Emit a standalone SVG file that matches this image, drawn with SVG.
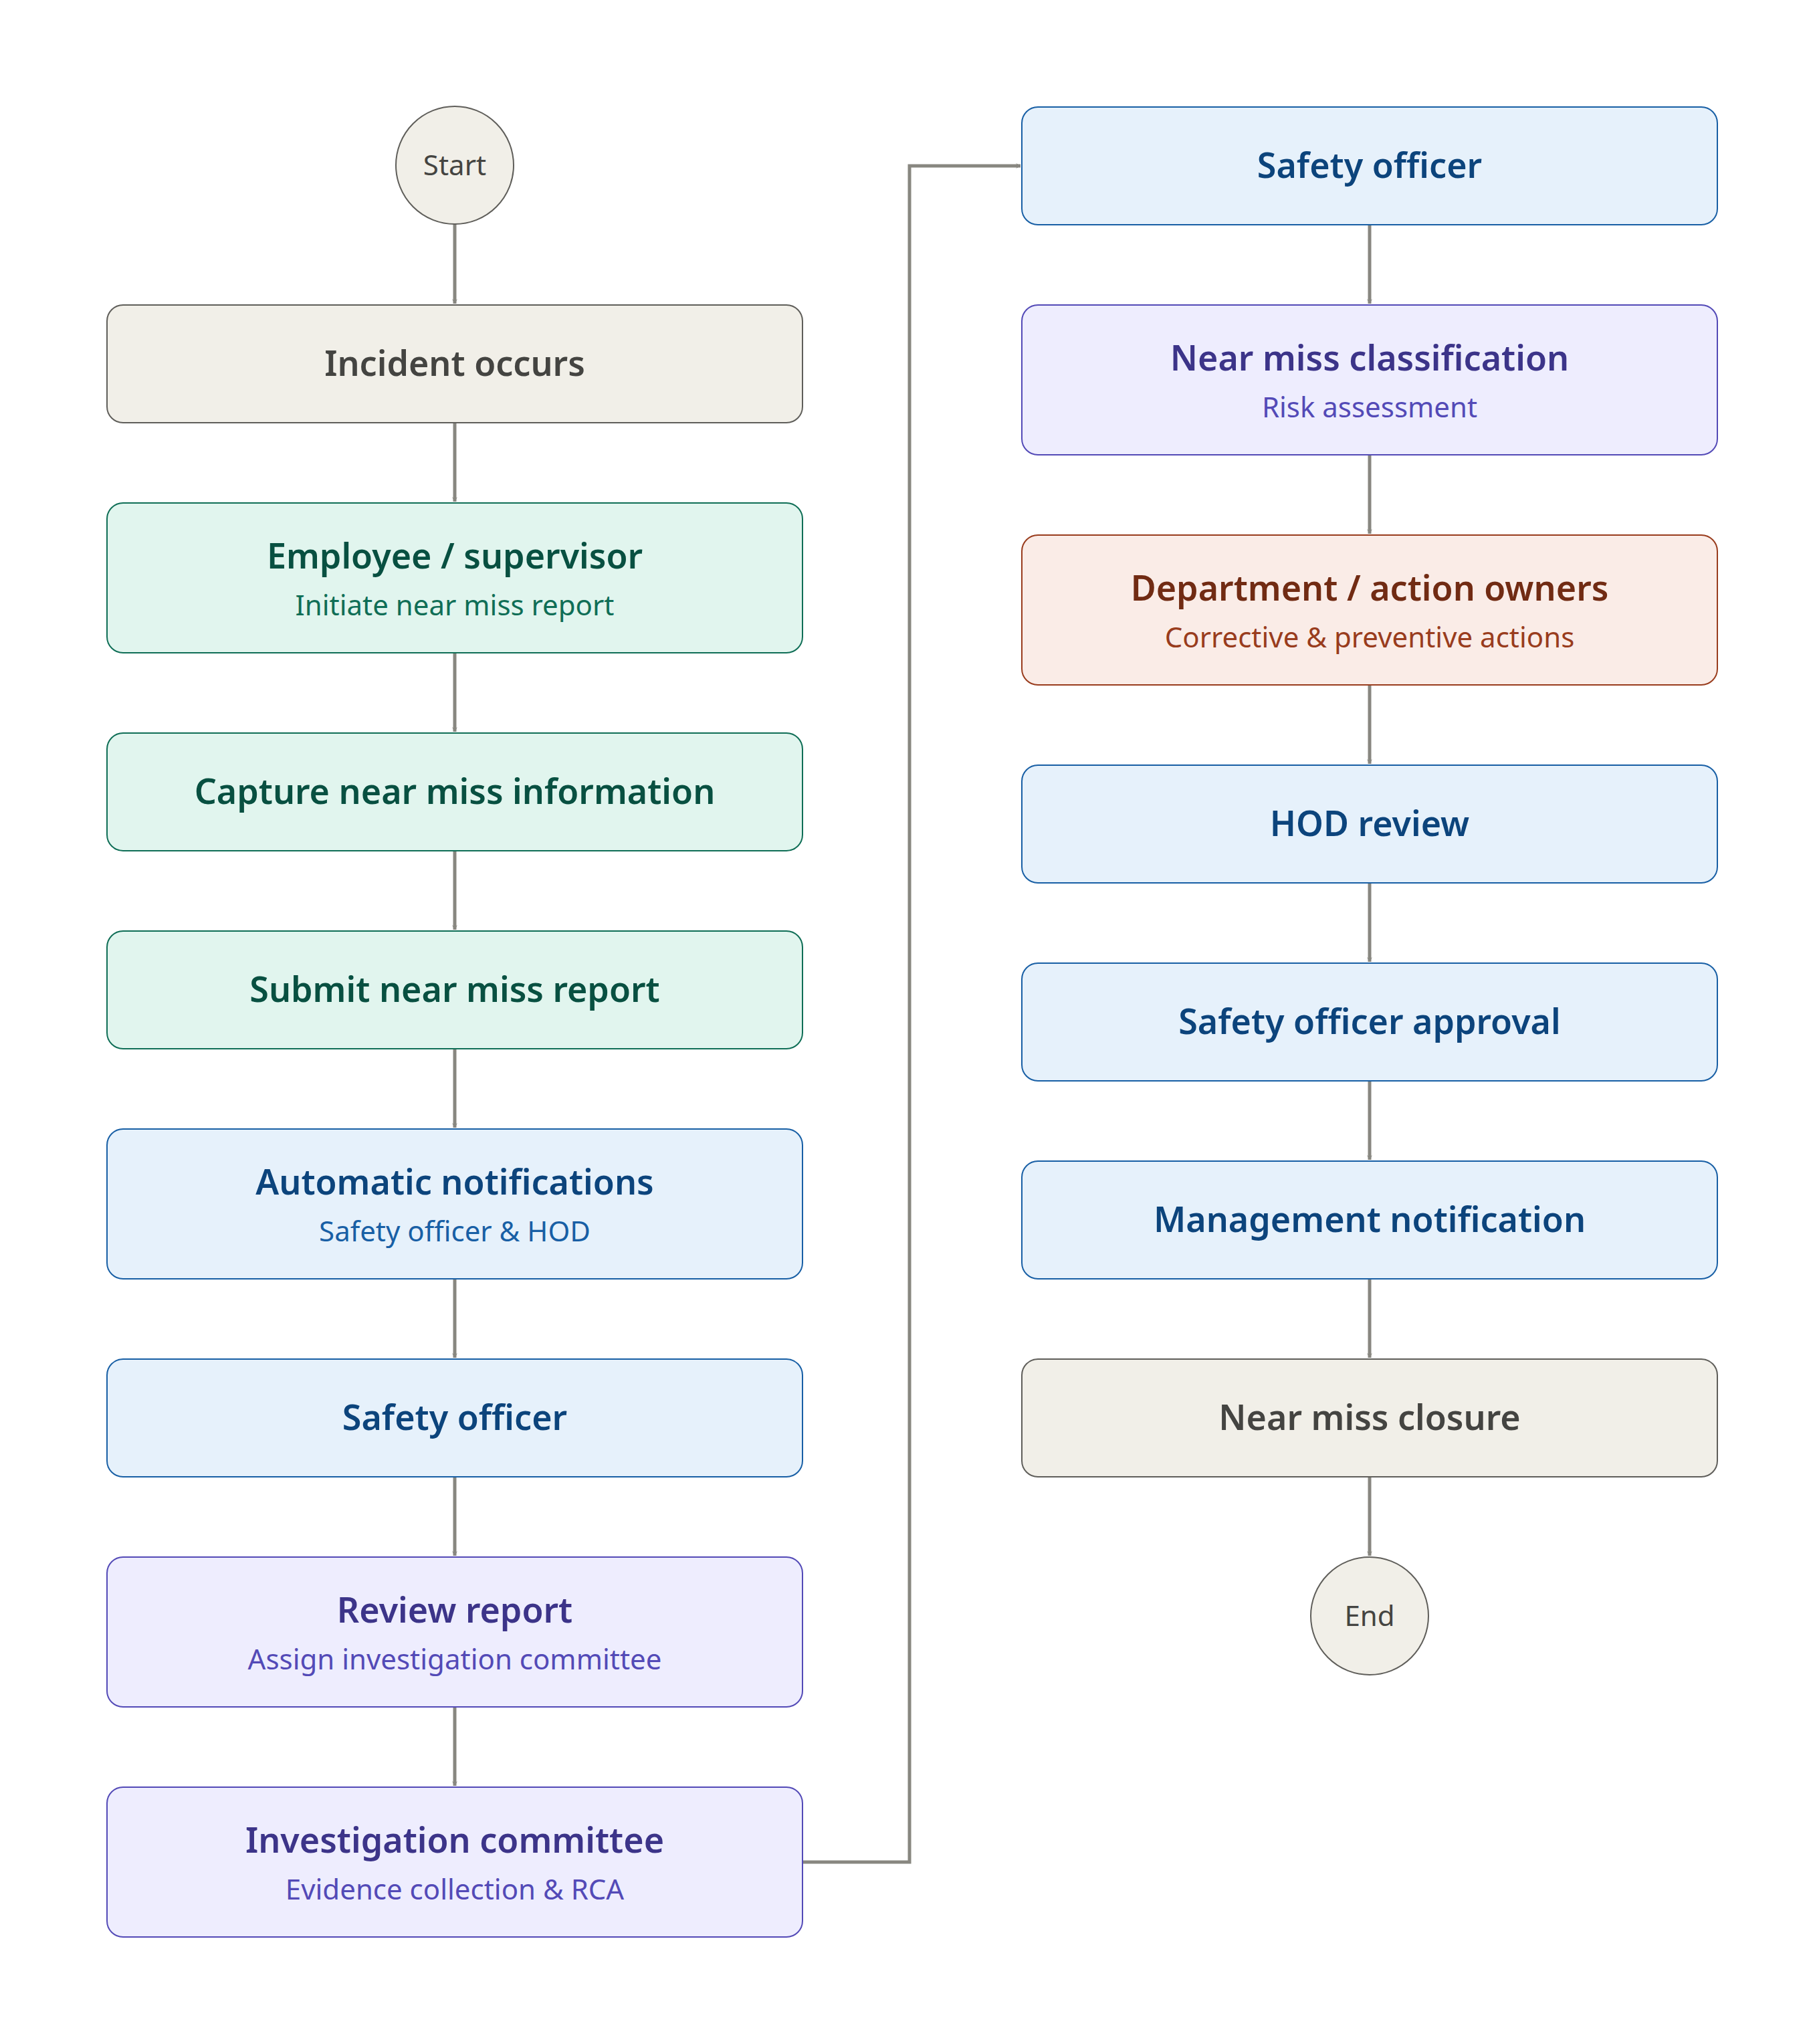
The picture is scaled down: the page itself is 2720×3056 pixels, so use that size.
<svg xmlns="http://www.w3.org/2000/svg" width="2720" height="3056" viewBox="0 0 2720 3056">
<style>
.t{font-family:"Noto Sans","Open Sans",sans-serif;font-size:52px;font-weight:600;text-anchor:middle}
.s{font-family:"Noto Sans","Open Sans",sans-serif;font-size:42px;text-anchor:middle}
.g rect,.g circle{fill:#f1efe8;stroke:#5f5e5a;stroke-width:2}
.g .t,.g .s{fill:#444441}
.gr rect{fill:#e1f5ee;stroke:#0f6e56;stroke-width:2}
.gr .t{fill:#085041}.gr .s{fill:#0f6e56}
.b rect{fill:#e6f1fb;stroke:#185fa5;stroke-width:2}
.b .t{fill:#0c447c}.b .s{fill:#185fa5}
.p rect{fill:#eeedfe;stroke:#534ab7;stroke-width:2}
.p .t{fill:#3c3489}.p .s{fill:#534ab7}
.c rect{fill:#faece7;stroke:#993c1d;stroke-width:2}
.c .t{fill:#712b13}.c .s{fill:#993c1d}
#edges path{fill:none;stroke:#888780;stroke-width:5;marker-end:url(#a)}
</style>
<defs><marker id="a" viewBox="0 0 20 20" refX="18" refY="10" markerWidth="8" markerHeight="8" markerUnits="userSpaceOnUse" orient="auto" style="overflow:visible"><path d="M2 2 L18 10 L2 18" fill="none" stroke="#888780" stroke-width="2.5"/></marker></defs>
<rect width="2720" height="3056" fill="#fff"/>
<g id="edges">
<path d="M680 335V454"/><path d="M680 632V750"/><path d="M680 976V1094"/><path d="M680 1272V1390"/><path d="M680 1568V1686"/><path d="M680 1912V2030"/><path d="M680 2208V2326"/><path d="M680 2552V2670"/>
<path d="M1200 2784H1360V248H1526"/>
<path d="M2048 336V454"/><path d="M2048 680V798"/><path d="M2048 1024V1142"/><path d="M2048 1320V1438"/><path d="M2048 1616V1734"/><path d="M2048 1912V2030"/><path d="M2048 2208V2326"/>
</g>
<g id="start" class="g"><circle cx="680" cy="247" r="88"/><text class="s" x="680" y="262">Start</text></g>
<g id="n1" class="g"><rect x="160" y="456" width="1040" height="176" rx="24"/><text class="t" x="680" y="562">Incident occurs</text></g>
<g id="n2" class="gr"><rect x="160" y="752" width="1040" height="224" rx="24"/><text class="t" x="680" y="850">Employee / supervisor</text><text class="s" x="680" y="920">Initiate near miss report</text></g>
<g id="n3" class="gr"><rect x="160" y="1096" width="1040" height="176" rx="24"/><text class="t" x="680" y="1202">Capture near miss information</text></g>
<g id="n4" class="gr"><rect x="160" y="1392" width="1040" height="176" rx="24"/><text class="t" x="680" y="1498">Submit near miss report</text></g>
<g id="n5" class="b"><rect x="160" y="1688" width="1040" height="224" rx="24"/><text class="t" x="680" y="1786">Automatic notifications</text><text class="s" x="680" y="1856">Safety officer &amp; HOD</text></g>
<g id="n6" class="b"><rect x="160" y="2032" width="1040" height="176" rx="24"/><text class="t" x="680" y="2138">Safety officer</text></g>
<g id="n7" class="p"><rect x="160" y="2328" width="1040" height="224" rx="24"/><text class="t" x="680" y="2426">Review report</text><text class="s" x="680" y="2496">Assign investigation committee</text></g>
<g id="n8" class="p"><rect x="160" y="2672" width="1040" height="224" rx="24"/><text class="t" x="680" y="2770">Investigation committee</text><text class="s" x="680" y="2840">Evidence collection &amp; RCA</text></g>
<g id="n9" class="b"><rect x="1528" y="160" width="1040" height="176" rx="24"/><text class="t" x="2048" y="266">Safety officer</text></g>
<g id="n10" class="p"><rect x="1528" y="456" width="1040" height="224" rx="24"/><text class="t" x="2048" y="554">Near miss classification</text><text class="s" x="2048" y="624">Risk assessment</text></g>
<g id="n11" class="c"><rect x="1528" y="800" width="1040" height="224" rx="24"/><text class="t" x="2048" y="898">Department / action owners</text><text class="s" x="2048" y="968">Corrective &amp; preventive actions</text></g>
<g id="n12" class="b"><rect x="1528" y="1144" width="1040" height="176" rx="24"/><text class="t" x="2048" y="1250">HOD review</text></g>
<g id="n13" class="b"><rect x="1528" y="1440" width="1040" height="176" rx="24"/><text class="t" x="2048" y="1546">Safety officer approval</text></g>
<g id="n14" class="b"><rect x="1528" y="1736" width="1040" height="176" rx="24"/><text class="t" x="2048" y="1842">Management notification</text></g>
<g id="n15" class="g"><rect x="1528" y="2032" width="1040" height="176" rx="24"/><text class="t" x="2048" y="2138">Near miss closure</text></g>
<g id="end" class="g"><circle cx="2048" cy="2416" r="88"/><text class="s" x="2048" y="2431">End</text></g>
</svg>
